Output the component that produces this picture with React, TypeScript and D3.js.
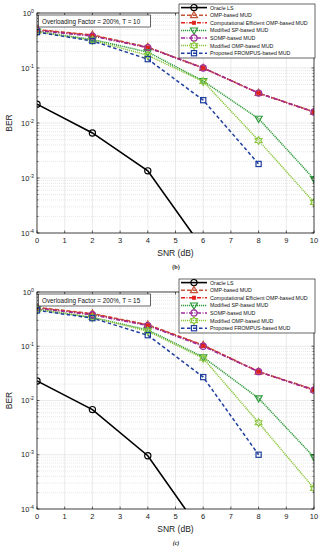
import React from "react";
import * as d3 from "d3";

const snr = [0, 2, 4, 6, 8, 10];
const xTicks = [0, 1, 2, 3, 4, 5, 6, 7, 8, 9, 10];
const yDecades = [0, -1, -2, -3, -4];

const seriesNames = [
  "Oracle LS",
  "OMP-based MUD",
  "Computational Efficient OMP-based MUD",
  "Modified SP-based MUD",
  "SOMP-based MUD",
  "Modified OMP-based MUD",
  "Proposed FROMPUS-based MUD",
];

// panel (b), T = 10
const oracleB = [0.022, 0.0066, 0.00135, 0.000052];
const ompB = [0.5, 0.4, 0.24, 0.1, 0.035, 0.016];
const ceOmpB = [0.49, 0.39, 0.235, 0.1, 0.035, 0.0158];
const modSpB = [0.46, 0.33, 0.195, 0.058, 0.012, 0.00096];
const sompB = [0.48, 0.38, 0.235, 0.1, 0.035, 0.0158];
const modOmpB = [0.46, 0.32, 0.17, 0.057, 0.0048, 0.00036];
const frompusB = [0.45, 0.31, 0.145, 0.026, 0.0018];

// panel (c), T = 15
const oracleC = [0.023, 0.0068, 0.00096, 0.000034];
const ompC = [0.52, 0.4, 0.25, 0.105, 0.034, 0.016];
const ceOmpC = [0.51, 0.39, 0.245, 0.103, 0.034, 0.0155];
const modSpC = [0.48, 0.34, 0.2, 0.063, 0.011, 0.0009];
const sompC = [0.5, 0.38, 0.24, 0.1, 0.034, 0.0155];
const modOmpC = [0.48, 0.34, 0.19, 0.06, 0.0039, 0.00024];
const frompusC = [0.46, 0.33, 0.16, 0.027, 0.001];

const styles = [
  { color: "#000000", dash: "", width: 1.6, marker: "circle" },
  { color: "#c4553a", dash: "4,2", width: 1.5, marker: "triUp" },
  { color: "#e0201c", dash: "4,1.5,1,1.5", width: 1.5, marker: "squareFill" },
  { color: "#2e9a3a", dash: "1.2,0.8", width: 1.5, marker: "triDown" },
  { color: "#9b2d9b", dash: "4,1.5,1,1.5", width: 1.5, marker: "circleP" },
  { color: "#8cc63e", dash: "1.2,0.8", width: 1.5, marker: "hex" },
  { color: "#1f3f9f", dash: "3.5,2.5", width: 1.5, marker: "square" },
];

function hexagram(cx: number, cy: number, r: number) {
  const pts: string[] = [];
  for (let i = 0; i < 12; i++) {
    const a = (Math.PI / 6) * i - Math.PI / 2;
    const rr = i % 2 === 0 ? r : r * 0.58;
    pts.push(`${cx + rr * Math.cos(a)},${cy + rr * Math.sin(a)}`);
  }
  return pts.join(" ");
}

function Marker({ kind, x, y, color }: { kind: string; x: number; y: number; color: string }) {
  const sw = 1.2;
  if (kind === "circle" || kind === "circleP")
    return <circle cx={x} cy={y} r={3.1} fill="none" stroke={color} strokeWidth={sw} />;
  if (kind === "triUp")
    return <polygon points={`${x},${y - 3.8} ${x - 3.5},${y + 2.4} ${x + 3.5},${y + 2.4}`} fill="none" stroke={color} strokeWidth={sw} />;
  if (kind === "triDown")
    return <polygon points={`${x},${y + 3.8} ${x - 3.5},${y - 2.4} ${x + 3.5},${y - 2.4}`} fill="none" stroke={color} strokeWidth={sw} />;
  if (kind === "squareFill")
    return <rect x={x - 1.7} y={y - 1.7} width={3.4} height={3.4} fill={color} stroke={color} strokeWidth={0.6} />;
  if (kind === "square")
    return <rect x={x - 2.6} y={y - 2.6} width={5.2} height={5.2} fill="none" stroke={color} strokeWidth={sw} />;
  return <polygon points={hexagram(x, y, 3.9)} fill="none" stroke={color} strokeWidth={sw} />;
}

function Panel({ top, bottom, tValue, caption, data, legendTop, id }: any) {
  const left = 37;
  const right = 314;
  const x = d3.scaleLinear().domain([0, 10]).range([left, right]);
  const y = d3.scaleLog().domain([1e-4, 1]).range([bottom, top]);
  const line = d3
    .line<number>()
    .x((_, i) => x(snr[i]))
    .y((d) => y(d));
  const minor: number[] = [];
  for (let e = -4; e < 0; e++) for (let k = 2; k <= 9; k++) minor.push(k * Math.pow(10, e));
  const font = "'Liberation Sans', Arial, sans-serif";
  const lx0 = 179;
  const lx1 = 315;
  const rowH = 7.6;
  return (
    <g>
      <defs>
        <clipPath id={id}>
          <rect x={left} y={top} width={right - left} height={bottom - top} />
        </clipPath>
      </defs>
      <rect x={left} y={top} width={right - left} height={bottom - top} fill="#fff" />
      {minor.map((v, i) => (
        <line key={"m" + i} x1={left} x2={right} y1={y(v)} y2={y(v)} stroke="#d0d0d0" strokeWidth={0.5} strokeDasharray="1,1" />
      ))}
      {xTicks.map((t) => (
        <line key={"gx" + t} x1={x(t)} x2={x(t)} y1={top} y2={bottom} stroke="#dcdcdc" strokeWidth={0.6} />
      ))}
      {yDecades.map((e) => (
        <line key={"gy" + e} x1={left} x2={right} y1={y(Math.pow(10, e))} y2={y(Math.pow(10, e))} stroke="#dcdcdc" strokeWidth={0.6} />
      ))}
      <g clipPath={`url(#${id})`}>
        {data.map((vals: number[], si: number) => (
          <path
            key={"s" + si}
            d={line(vals) || ""}
            fill="none"
            stroke={styles[si].color}
            strokeWidth={styles[si].width}
            strokeDasharray={styles[si].dash}
          />
        ))}
        {data.map((vals: number[], si: number) =>
          vals.map((v, i) =>
            v >= 1e-4 ? <Marker key={`mk${si}-${i}`} kind={styles[si].marker} x={x(snr[i])} y={y(v)} color={styles[si].color} /> : null
          )
        )}
      </g>
      <rect x={left} y={top} width={right - left} height={bottom - top} fill="none" stroke="#000" strokeWidth={0.7} />
      {xTicks.map((t) => (
        <g key={"xt" + t}>
          <line x1={x(t)} x2={x(t)} y1={bottom} y2={bottom - 2.5} stroke="#000" strokeWidth={0.6} />
          <line x1={x(t)} x2={x(t)} y1={top} y2={top + 2.5} stroke="#000" strokeWidth={0.6} />
          <text x={x(t)} y={bottom + 9.5} fontSize={7.5} fontFamily={font} textAnchor="middle" fill="#222">
            {t}
          </text>
        </g>
      ))}
      {minor.map((v, i) => (
        <g key={"mt" + i}>
          <line x1={left} x2={left + 1.5} y1={y(v)} y2={y(v)} stroke="#000" strokeWidth={0.5} />
          <line x1={right} x2={right - 1.5} y1={y(v)} y2={y(v)} stroke="#000" strokeWidth={0.5} />
        </g>
      ))}
      {yDecades.map((e) => (
        <g key={"yt" + e}>
          <line x1={left} x2={left + 2.5} y1={y(Math.pow(10, e))} y2={y(Math.pow(10, e))} stroke="#000" strokeWidth={0.6} />
          <line x1={right} x2={right - 2.5} y1={y(Math.pow(10, e))} y2={y(Math.pow(10, e))} stroke="#000" strokeWidth={0.6} />
          <text x={left - 3} y={y(Math.pow(10, e)) + 2.7} fontSize={7.5} fontFamily={font} textAnchor="end" fill="#222">
            10
            <tspan dy={-3.2} fontSize={5.2}>
              {e}
            </tspan>
          </text>
        </g>
      ))}
      <text x={(left + right) / 2} y={bottom + 23} fontSize={8.5} fontFamily={font} textAnchor="middle" fill="#222">
        SNR (dB)
      </text>
      <text
        transform={`translate(12,${(top + bottom) / 2}) rotate(-90)`}
        fontSize={8.5}
        fontFamily={font}
        textAnchor="middle"
        fill="#222"
      >
        BER
      </text>
      <text x={(left + right) / 2 + 0.5} y={bottom + 35.5} fontSize={6} fontFamily="'Liberation Serif', serif" fontStyle={caption === "(c)" ? "italic" : "normal"} fontWeight="bold" textAnchor="middle" fill="#222">
        {caption}
      </text>
      <rect x={38.5} y={top + 2} width={112} height={12} fill="#fff" stroke="#000" strokeWidth={0.6} />
      <text x={42} y={top + 10.5} fontSize={6.3} fontFamily={font} fill="#111">
        {`Overloading Factor = 200%, T = ${tValue}`}
      </text>
      <rect x={lx0} y={legendTop} width={lx1 - lx0} height={54} fill="#fff" stroke="#000" strokeWidth={0.6} />
      {seriesNames.map((name, i) => {
        const ly = legendTop + 3.6 + i * rowH;
        return (
          <g key={"lg" + i}>
            <line x1={lx0 + 2} x2={lx0 + 28} y1={ly} y2={ly} stroke={styles[i].color} strokeWidth={styles[i].width} strokeDasharray={styles[i].dash} />
            <Marker kind={styles[i].marker} x={lx0 + 15} y={ly} color={styles[i].color} />
            <text x={lx0 + 31} y={ly + 1.9} fontSize={5.3} fontFamily={font} fill="#111">
              {name}
            </text>
          </g>
        );
      })}
    </g>
  );
}

export default function App() {
  const dataB = [oracleB, ompB, ceOmpB, modSpB, sompB, modOmpB, frompusB];
  const dataC = [oracleC, ompC, ceOmpC, modSpC, sompC, modOmpC, frompusC];
  return (
    <svg width={324} height={550} style={{ position: "absolute", left: 0, top: 0, background: "#fff" }}>
      <rect width={324} height={550} fill="#fff" />
      <Panel id="clipB" top={13} bottom={233} tValue={10} caption="(b)" data={dataB} legendTop={4} />
      <Panel id="clipC" top={292} bottom={509} tValue={15} caption="(c)" data={dataC} legendTop={279} />
    </svg>
  );
}
